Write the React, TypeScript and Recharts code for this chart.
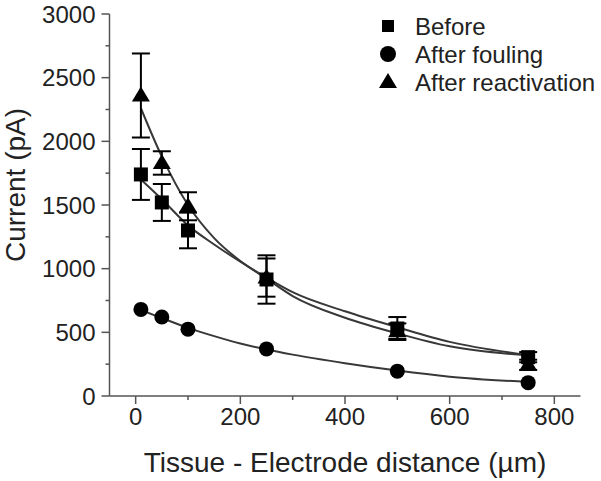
import React from "react";
import {
  ComposedChart,
  Line,
  Scatter,
  ErrorBar,
  XAxis,
  YAxis,
  Label,
} from "recharts";

// measured points (µm vs pA)
const distances = [10, 50, 100, 250, 500, 750];
const beforeValues = [1740, 1520, 1300, 915, 530, 305];
const beforeErrors = [200, 145, 140, 190, 90, 40];
const foulingValues = [680, 620, 525, 370, 195, 105];
const reactivationValues = [2360, 1830, 1490, 930, 510, 245];
const reactivationErrors = [330, 92, 110, 150, 60, 40];

// fitted decay curves
const fitDistances = [10, 50, 100, 150, 200, 250, 300, 400, 500, 600, 750];
const beforeFit = [1700, 1545, 1340, 1190, 1055, 930, 815, 665, 540, 425, 322];
const foulingFit = [675, 612, 535, 470, 412, 365, 325, 258, 200, 152, 110];
const reactivationFit = [2260, 1880, 1500, 1240, 1060, 922, 785, 615, 492, 390, 318];

const xTicks = [0, 100, 200, 300, 400, 500, 600, 700, 800];
const yTicks = [0, 250, 500, 750, 1000, 1250, 1500, 1750, 2000, 2250, 2500, 2750, 3000];

const FONT = '"Liberation Sans", Arial, sans-serif';
const AXIS = "#555";
const TEXT = "#222";
const LINE = "#383838";

const toRows = (values: number[], errors?: number[]) =>
  distances.map((x, i) => ({ x, y: values[i], err: errors ? errors[i] : 0 }));
const toFit = (values: number[]) => fitDistances.map((x, i) => ({ x, y: values[i] }));

const Square = ({ cx, cy, s = 14 }: any) => (
  <rect x={cx - s / 2} y={cy - s / 2} width={s} height={s} fill="#000" />
);
const Dot = ({ cx, cy, r = 7.5 }: any) => <circle cx={cx} cy={cy} r={r} fill="#000" />;
const Tri = ({ cx, cy, w = 18, h = 15 }: any) => (
  <polygon
    points={`${cx},${cy - h * 0.6} ${cx - w / 2},${cy + h * 0.4} ${cx + w / 2},${cy + h * 0.4}`}
    fill="#000"
  />
);

const YTick = ({ x, y, payload }: any) => {
  const major = payload.value % 500 === 0;
  return (
    <g>
      <line x1={x - (major ? 8 : 4)} x2={x} y1={y} y2={y} stroke={AXIS} strokeWidth={1.5} />
      {major && (
        <text x={x - 14} y={y + 8.5} textAnchor="end" fontSize={24} fontFamily={FONT} fill={TEXT}>
          {payload.value}
        </text>
      )}
    </g>
  );
};

const XTick = ({ x, y, payload }: any) => {
  const major = payload.value % 200 === 0;
  return (
    <g>
      <line x1={x} x2={x} y1={y} y2={y + (major ? 8 : 4)} stroke={AXIS} strokeWidth={1.5} />
      {major && (
        <text x={x} y={y + 29} textAnchor="middle" fontSize={24} fontFamily={FONT} fill={TEXT}>
          {payload.value}
        </text>
      )}
    </g>
  );
};

const legendItems = [
  { name: "Before", Marker: () => <Square cx={13} cy={16} s={12} /> },
  { name: "After fouling", Marker: () => <Dot cx={13} cy={44} r={8} /> },
  { name: "After reactivation", Marker: () => <Tri cx={13} cy={72} w={18} h={15} /> },
];

export default function App() {
  return (
    <div style={{ position: "relative", width: 601, height: 481, background: "#fff" }}>
      <style>{"body{margin:0}"}</style>
      <ComposedChart
        width={601}
        height={481}
        margin={{ top: 14, right: 20.5, bottom: 0, left: 0 }}
      >
        <XAxis
          type="number"
          dataKey="x"
          domain={[-50, 850]}
          ticks={xTicks}
          interval={0}
          height={85}
          tickSize={0}
          tickMargin={0}
          tickLine={false}
          tick={<XTick />}
          axisLine={{ stroke: AXIS, strokeWidth: 1.5 }}
        >
          <Label
            content={({ viewBox }: any) => (
              <text
                x={viewBox.x + viewBox.width / 2}
                y={viewBox.y + 76}
                textAnchor="middle"
                fontSize={28}
                fontFamily={FONT}
                fill={TEXT}
              >
                Tissue - Electrode distance (µm)
              </text>
            )}
          />
        </XAxis>
        <YAxis
          type="number"
          dataKey="y"
          domain={[0, 3000]}
          ticks={yTicks}
          interval={0}
          width={109.5}
          tickSize={0}
          tickMargin={0}
          tickLine={false}
          tick={<YTick />}
          axisLine={{ stroke: AXIS, strokeWidth: 1.5 }}
        >
          <Label
            content={({ viewBox }: any) => {
              const cx = viewBox.x + 25;
              const cy = viewBox.y + viewBox.height / 2 - 20;
              return (
                <text
                  x={cx}
                  y={cy}
                  transform={`rotate(-90 ${cx} ${cy})`}
                  textAnchor="middle"
                  fontSize={28}
                  fontFamily={FONT}
                  fill={TEXT}
                >
                  Current (pA)
                </text>
              );
            }}
          />
        </YAxis>

        <Line data={toFit(beforeFit)} dataKey="y" type="monotone" stroke={LINE} strokeWidth={2} dot={false} isAnimationActive={false} />
        <Line data={toFit(foulingFit)} dataKey="y" type="monotone" stroke={LINE} strokeWidth={2} dot={false} isAnimationActive={false} />
        <Line data={toFit(reactivationFit)} dataKey="y" type="monotone" stroke={LINE} strokeWidth={2} dot={false} isAnimationActive={false} />

        <Scatter data={toRows(beforeValues, beforeErrors)} dataKey="y" shape={<Square />} isAnimationActive={false}>
          <ErrorBar dataKey="err" direction="y" width={9} stroke="#000" strokeWidth={2} />
        </Scatter>
        <Scatter data={toRows(foulingValues)} dataKey="y" shape={<Dot />} isAnimationActive={false} />
        <Scatter data={toRows(reactivationValues, reactivationErrors)} dataKey="y" shape={<Tri />} isAnimationActive={false}>
          <ErrorBar dataKey="err" direction="y" width={9} stroke="#000" strokeWidth={2} />
        </Scatter>
      </ComposedChart>

      <svg width={226} height={92} style={{ position: "absolute", left: 375, top: 10 }}>
        {legendItems.map(({ name, Marker }, i) => (
          <g key={name}>
            <Marker />
            <text x={40} y={16 + i * 28 + 8.6} fontSize={24} fontFamily={FONT} fill={TEXT}>
              {name}
            </text>
          </g>
        ))}
      </svg>
    </div>
  );
}
